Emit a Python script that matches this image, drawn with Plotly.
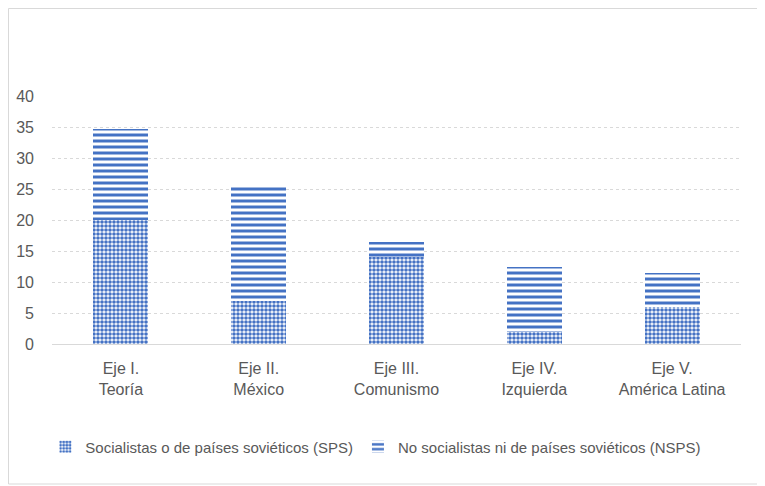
import plotly.graph_objects as go

# datos
categorias = ["Eje I.<br>Teoría", "Eje II.<br>México", "Eje III.<br>Comunismo",
              "Eje IV.<br>Izquierda", "Eje V.<br>América Latina"]
sps = [20, 7, 14, 2, 6]
nsps = [14.7, 18.6, 2.5, 10.5, 5.5]
nombres = ["Socialistas o de países soviéticos (SPS)",
           "No socialistas ni de países soviéticos (NSPS)"]
ticks_y = [0, 5, 10, 15, 20, 25, 30, 35, 40]

azul = "#4472C4"
gris_txt = "#595959"
fuente = "Liberation Sans"

# la pagina tiene 8px de margen en el body -> figura algo mas pequena
W, H = 757, 478
L, R, T, B = 44, 24, 88, 142

fig = go.Figure()
fig.add_trace(go.Bar(
    x=categorias, y=sps, name=nombres[0],
    marker=dict(color="white", line=dict(width=0),
                pattern=dict(shape=".", fgcolor=azul, bgcolor="white",
                             size=4, solidity=0.65, fgopacity=1,
                             fillmode="replace")),
))
fig.add_trace(go.Bar(
    x=categorias, y=nsps, name=nombres[1],
    marker=dict(color="white", line=dict(width=0),
                pattern=dict(shape="-", fgcolor=azul, bgcolor="white",
                             size=6, solidity=0.5, fgopacity=1,
                             fillmode="replace")),
))

# borde del area del grafico (como en Excel)
pw, ph = W - L - R, H - T - B
fig.add_shape(type="rect", xref="paper", yref="paper",
              x0=(0.5 - L) / pw, x1=(W - 2 - L) / pw,
              y0=(H - T - B - (H - 2 - T)) / ph, y1=(H - T - B - (0.5 - T)) / ph,
              line=dict(color="#d9d9d9", width=1), layer="below")

fig.update_layout(
    width=W, height=H,
    margin=dict(l=L, r=R, t=T, b=B),
    barmode="stack", bargap=0.6,
    plot_bgcolor="white", paper_bgcolor="white",
    font=dict(family=fuente, size=16, color=gris_txt),
    showlegend=True,
    legend=dict(orientation="h", x=0.47, xanchor="center",
                y=(H - T - B - (439 - T)) / ph, yanchor="middle",
                font=dict(size=15, color=gris_txt), traceorder="normal",
                itemwidth=30),
    xaxis=dict(showgrid=False, showline=True, linecolor="#d9d9d9",
               ticks="", ticklabelstandoff=10, automargin=False,
               tickfont=dict(size=16, color=gris_txt)),
    yaxis=dict(range=[0, 40], tickvals=ticks_y, showgrid=True,
               gridcolor="#d9d9d9", griddash="dot", gridwidth=1,
               zeroline=False, showline=False, ticks="",
               ticklabelstandoff=17, automargin=False,
               tickfont=dict(size=16, color=gris_txt)),
)

fig.write_html("out.html")
